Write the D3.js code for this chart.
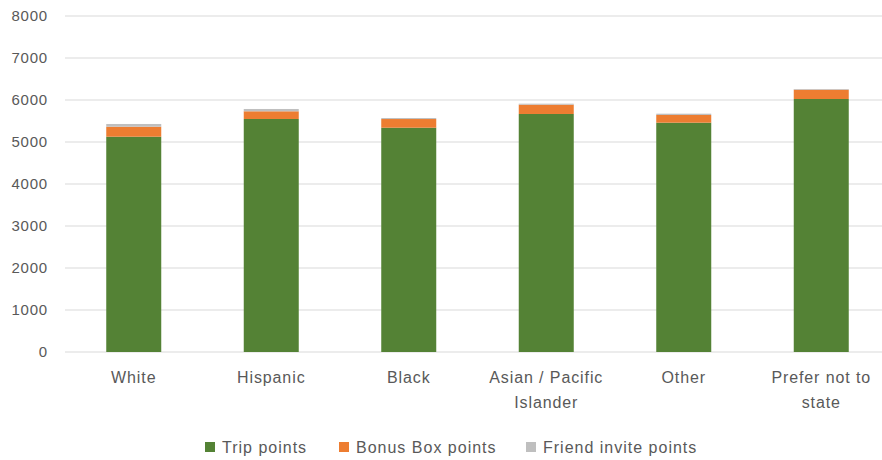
<!DOCTYPE html>
<html>
<head>
<meta charset="utf-8">
<script src="https://cdn.jsdelivr.net/npm/d3@7.9.0/dist/d3.min.js"></script>
<style>
  body { margin: 0; background: #fff; }
  text { font-family: "Liberation Sans", Arial, sans-serif; fill: #595959; }
</style>
</head>
<body>
<svg id="chart" width="882" height="460"></svg>
<script>
const categories = ['White', 'Hispanic', 'Black', 'Asian / Pacific Islander', 'Other', 'Prefer not to state'];
const tripPoints = [5126, 5548, 5340, 5667, 5460, 6024];
const bonusBoxPoints = [238, 183, 207, 221, 183, 221];
const friendInvitePoints = [65, 55, 24, 24, 31, 17];
const seriesNames = ['Trip points', 'Bonus Box points', 'Friend invite points'];
const yTicks = [0, 1000, 2000, 3000, 4000, 5000, 6000, 7000, 8000];

const colors = d3.scaleOrdinal()
    .domain(seriesNames)
    .range(['#548235', '#ed7d31', '#bfbfbf']);

const svg = d3.select('#chart');

let x = d3.scaleBand()
    .domain(categories)
    .range([65, 890])
    .paddingInner(0.6)
    .paddingOuter(0.3);

let y = d3.scaleLinear()
    .domain([0, 8000])
    .range([352, 16]);

// gridlines
svg.append('g')
    .selectAll('line')
    .data(yTicks)
    .join('line')
    .attr('x1', 65)
    .attr('x2', 882)
    .attr('y1', d => y(d))
    .attr('y2', d => y(d))
    .attr('stroke', '#d9d9d9')
    .attr('stroke-width', 1);

// y labels
svg.append('g')
    .selectAll('text')
    .data(yTicks)
    .join('text')
    .attr('x', 48)
    .attr('y', d => y(d))
    .attr('dy', '0.35em')
    .attr('text-anchor', 'end')
    .attr('font-size', 15)
    .attr('letter-spacing', 0.8)
    .text(d => d);

let table = categories.map((c, i) => ({
    category: c,
    'Trip points': tripPoints[i],
    'Bonus Box points': bonusBoxPoints[i],
    'Friend invite points': friendInvitePoints[i]
}));

let stacked = d3.stack().keys(seriesNames)(table);

stacked.forEach(layer => {
    svg.append('g')
        .selectAll('rect')
        .data(layer)
        .join('rect')
        .attr('x', d => x(d.data.category))
        .attr('width', x.bandwidth())
        .attr('y', d => y(d[1]))
        .attr('height', d => y(d[0]) - y(d[1]))
        .attr('fill', colors(layer.key));
});

// x labels, wrapped like the original
const xLines = {
    'Asian / Pacific Islander': ['Asian / Pacific', 'Islander'],
    'Prefer not to state': ['Prefer not to', 'state']
};

categories.forEach(c => {
    let lines = xLines[c] || [c];
    let cx = x(c) + x.bandwidth() / 2;
    let t = svg.append('text')
        .attr('text-anchor', 'middle')
        .attr('font-size', 16)
        .attr('letter-spacing', 0.9)
        .attr('y', 383);
    lines.forEach((l, i) => {
        t.append('tspan')
            .attr('x', cx)
            .attr('dy', i === 0 ? 0 : 25)
            .text(l);
    });
});

// legend
const legendX = [205, 339, 526];
let legend = svg.append('g');
seriesNames.forEach((name, i) => {
    legend.append('rect')
        .attr('x', legendX[i])
        .attr('y', 442)
        .attr('width', 10)
        .attr('height', 10)
        .attr('fill', colors(name));
    legend.append('text')
        .attr('x', legendX[i] + 17)
        .attr('y', 453)
        .attr('font-size', 16)
        .attr('letter-spacing', 1)
        .text(name);
});
</script>
</body>
</html>
